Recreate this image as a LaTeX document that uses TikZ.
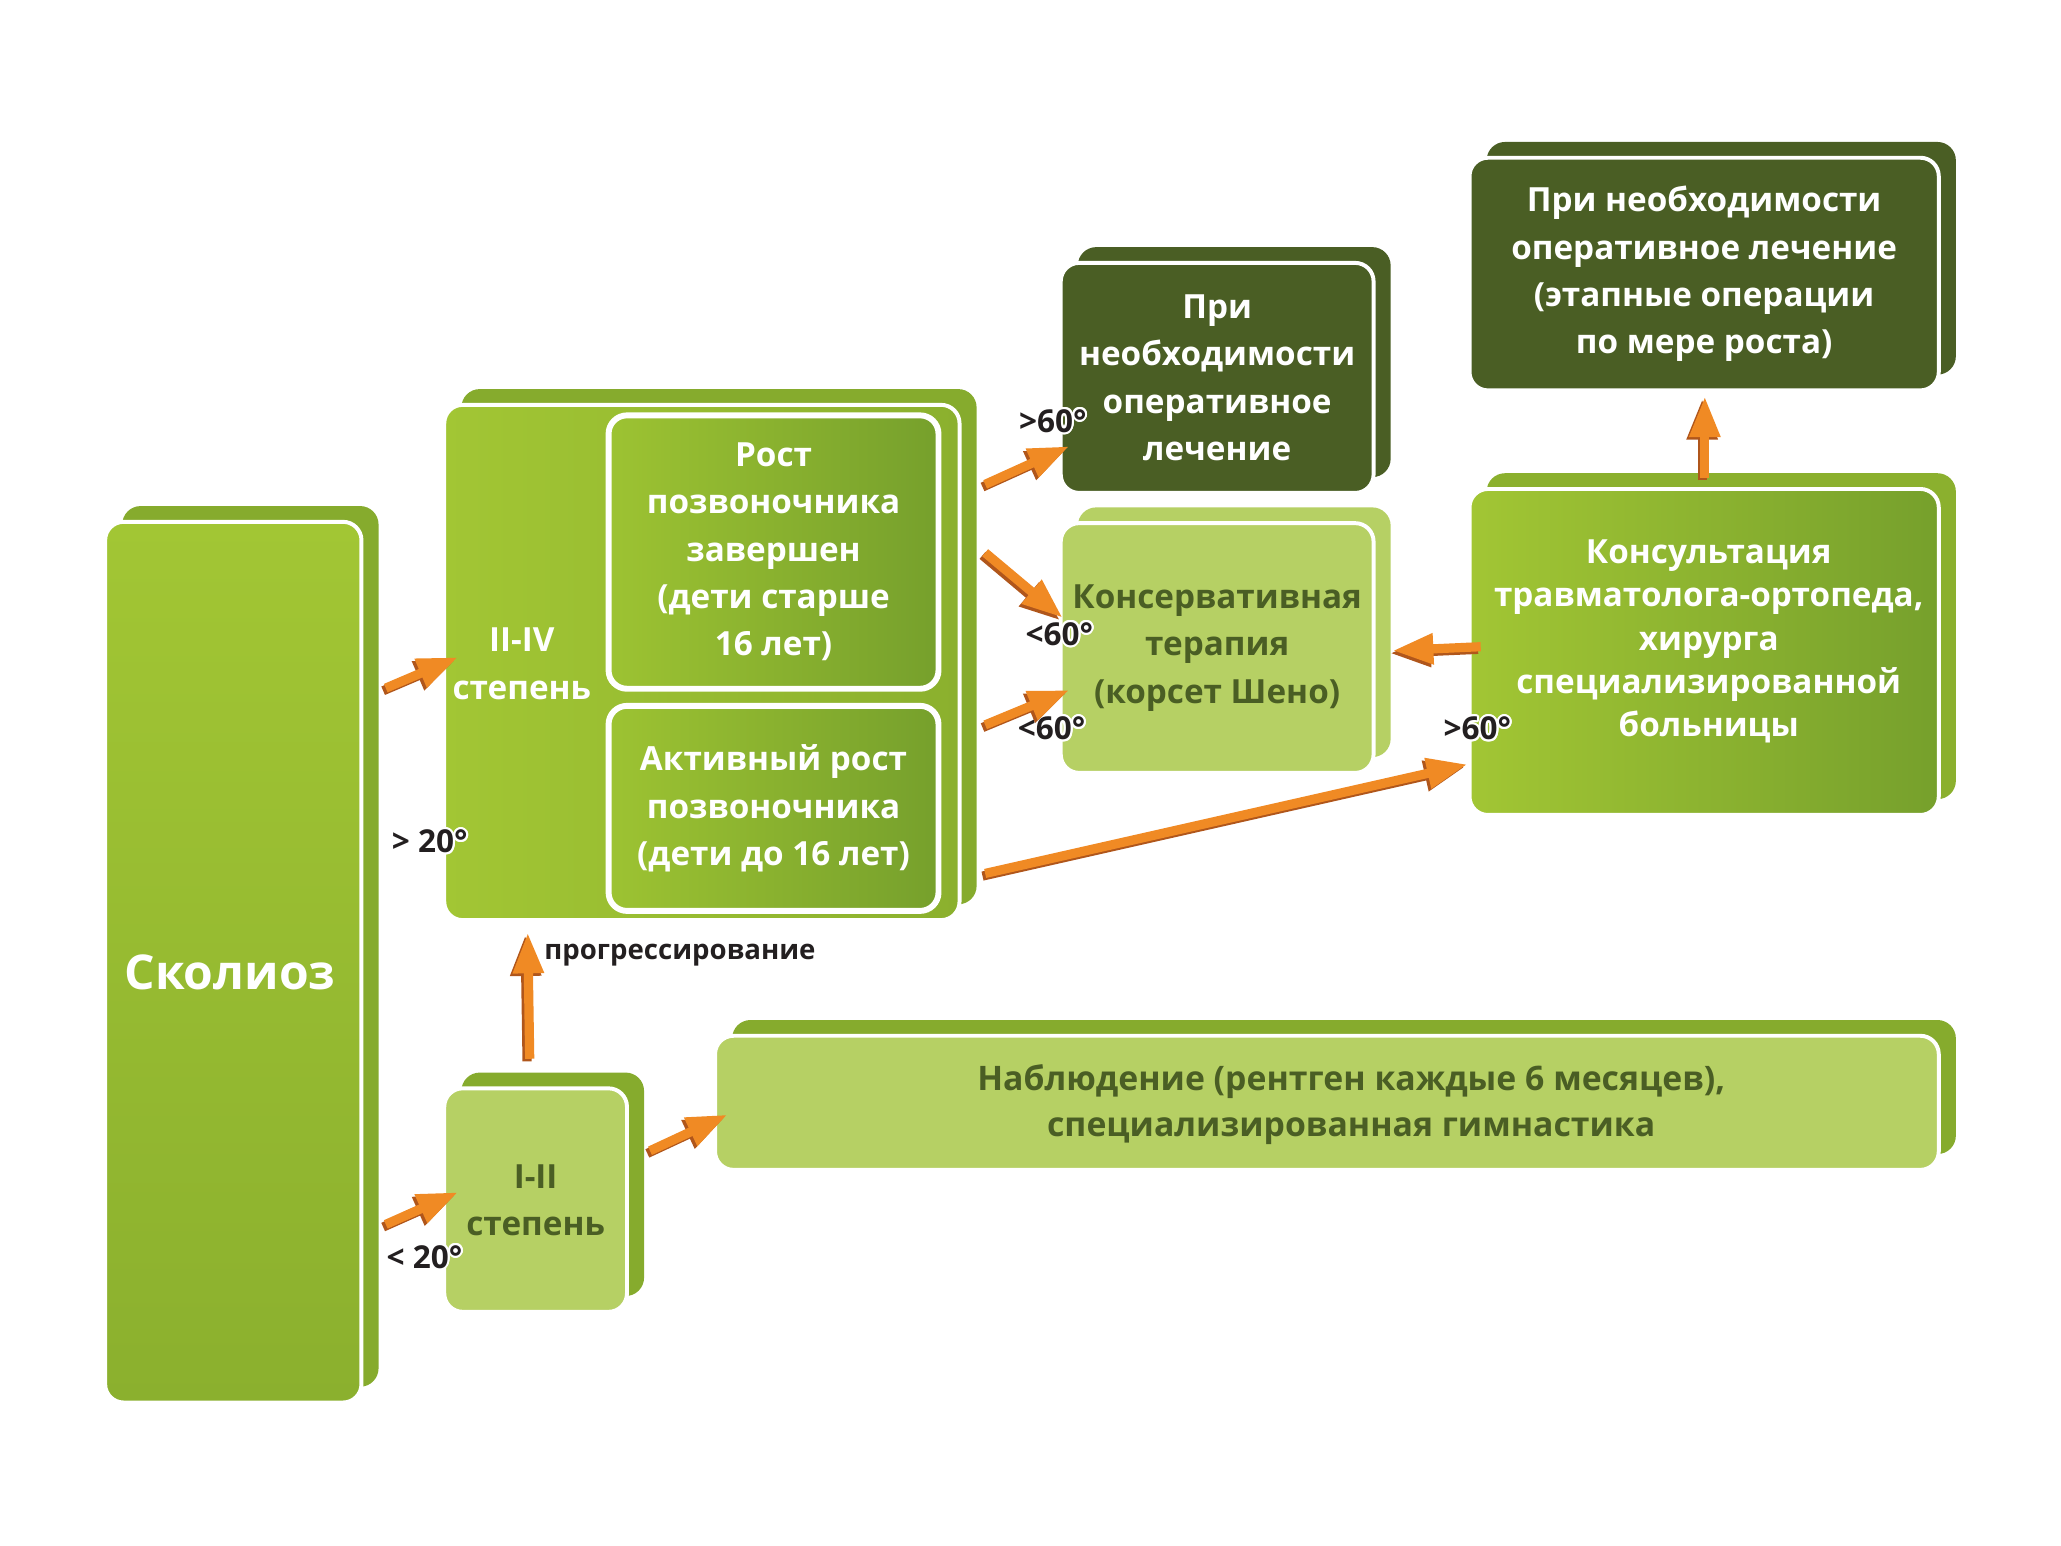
\documentclass[tikz,border=0pt]{standalone}
\usepackage{fontspec}
\setmainfont{Open Sans}
\usepackage{contour}
\contourlength{1.6pt}
\usetikzlibrary{arrows.meta,shadows,calc}
\definecolor{gA}{HTML}{A2C634}
\definecolor{gB}{HTML}{8BB02E}
\definecolor{gBack}{HTML}{86AB2D}
\definecolor{inA}{HTML}{9DC332}
\definecolor{inB}{HTML}{76A02C}
\definecolor{dk}{HTML}{4A5E24}
\definecolor{lt}{HTML}{B6D064}
\definecolor{orA}{HTML}{F08A24}
\definecolor{orD}{HTML}{B0561B}
\definecolor{lblc}{HTML}{231F20}
\tikzset{
  back/.style={copy shadow={fill=#1, draw=none, shadow xshift=13pt, shadow yshift=12pt}},
  frontbox/.style={draw=white, line width=3pt, rounded corners=14pt, inner sep=0pt},
  wtxt/.style={text=white, font=\fontsize{25.3}{36}\selectfont\bfseries, align=center},
  dtxt/.style={text=dk, font=\fontsize{25.3}{36}\selectfont\bfseries, align=center},
  lbl/.style={text=lblc, font=\fontsize{24}{28}\selectfont\bfseries, inner sep=0pt},
  oarr/.style={draw=orA, line width=7pt, -{Triangle[length=31pt,width=22pt]},
     preaction={draw=orD, line width=7pt, -{Triangle[length=31pt,width=22pt]}, transform canvas={shift={(-2pt,-2pt)}}}},
}
\begin{document}
\begin{tikzpicture}[x=1pt,y=-1pt]
\useasboundingbox (0,0) rectangle (1568,1176);

% main box
\node[frontbox, back=gBack, top color=gA, bottom color=gB, minimum width=195, minimum height=670] (sk) at (177.5,732) {};
\node[text=white, font=\fontsize{36.5}{44}\selectfont\bfseries] (skt) at (175,740) {Сколиоз};

% II-IV box
\node[frontbox, back=gBack, left color=gA, right color=gB, minimum width=392, minimum height=392] (deg24) at (534,504) {};
\node[wtxt] (deg24t) at (397,505) {II-IV\\степень};
\node[frontbox, line width=4.5pt, left color=inA, right color=inB, minimum width=251, minimum height=208, wtxt] (rost) at (588.5,420) {Рост\\позвоночника\\завершен\\(дети старше\\16 лет)};
\node[frontbox, line width=4.5pt, left color=inA, right color=inB, minimum width=251, minimum height=156, wtxt] (akt) at (588.5,615) {Активный рост\\позвоночника\\(дети до 16 лет)};

% right column
\node[frontbox, back=dk, fill=dk, minimum width=238, minimum height=175, wtxt] (op1) at (926,287.5) {При\\необходимости\\оперативное\\лечение};
\node[frontbox, back=lt, fill=lt, minimum width=238, minimum height=190, dtxt] (kons) at (926,493) {Консервативная\\терапия\\(корсет Шено)};
\node[frontbox, back=dk, fill=dk, minimum width=357, minimum height=177, wtxt] (op2) at (1296.5,208.5) {При необходимости\\оперативное лечение\\(этапные операции\\по мере роста)};
\node[frontbox, back=gB, left color=gA, right color=inB, minimum width=357, minimum height=248] (konsult) at (1296.5,496) {};
\node[wtxt, font=\fontsize{25.3}{33}\selectfont\bfseries] (konsultt) at (1300,488) {Консультация\\травматолога-ортопеда,\\хирурга\\специализированной\\больницы};

% bottom
\node[frontbox, back=gBack, fill=lt, minimum width=139, minimum height=170, dtxt] (deg12) at (407.5,913) {I-II\\степень};
\node[frontbox, back=gBack, fill=lt, minimum width=931, minimum height=102] (nabl) at (1009.5,839) {};
\node[dtxt, font=\fontsize{25.7}{35}\selectfont\bfseries] (nablt) at (1028,840) {Наблюдение (рентген каждые 6 месяцев),\\специализированная гимнастика};

% labels
\node[lbl] (l20a) at (327,641) {\contour{white}{> 20°}};
\node[lbl] (l20b) at (323,957) {\contour{white}{< 20°}};
\node[lbl] (l60a) at (801,321) {\contour{white}{>60°}};
\node[lbl] (l60b) at (806,483) {\contour{white}{<60°}};
\node[lbl] (l60c) at (800,555) {\contour{white}{<60°}};
\node[lbl] (l60d) at (1124,555) {\contour{white}{>60°}};
\node[lbl, anchor=west, font=\fontsize{21}{24}\selectfont\bfseries] (progr) at (414,727) {прогрессирование};

% arrows
\draw[oarr] ($(sk.north east)+(17,128)$) -- ($(deg24.west)+(12,-4)$);
\draw[oarr] ($(sk.north east)+(17,536)$) -- ($(deg12.west)+(12,-6)$);
\draw[oarr] ($(deg12.north)+(-4.5,-21)$) -- ($(deg24.south west)+(65,8)$);
\draw[oarr] ($(deg12.north east)+(16,49)$) -- ($(nabl.west)+(11,9)$);
\draw[oarr] ($(deg24.north east)+(18,62)$) -- ($(op1.south west)+(8,-37)$);
\draw[oarr] ($(deg24.north east)+(18,114)$) -- ($(kons.west)+(3,-23)$);
\draw[oarr] ($(deg24.north east)+(18,245)$) -- ($(kons.west)+(8,32)$);
\draw[oarr] ($(deg24.north east)+(18,358)$) -- ($(konsult.south west)+(0,-40)$);
\draw[oarr] ($(konsult.west)+(10,-4)$) -- ($(kons.east)+(13,2)$);
\draw[oarr] ($(konsult.north)+(0.5,-7)$) -- ($(op2.south)+(0.5,3)$);
\end{tikzpicture}
\end{document}
